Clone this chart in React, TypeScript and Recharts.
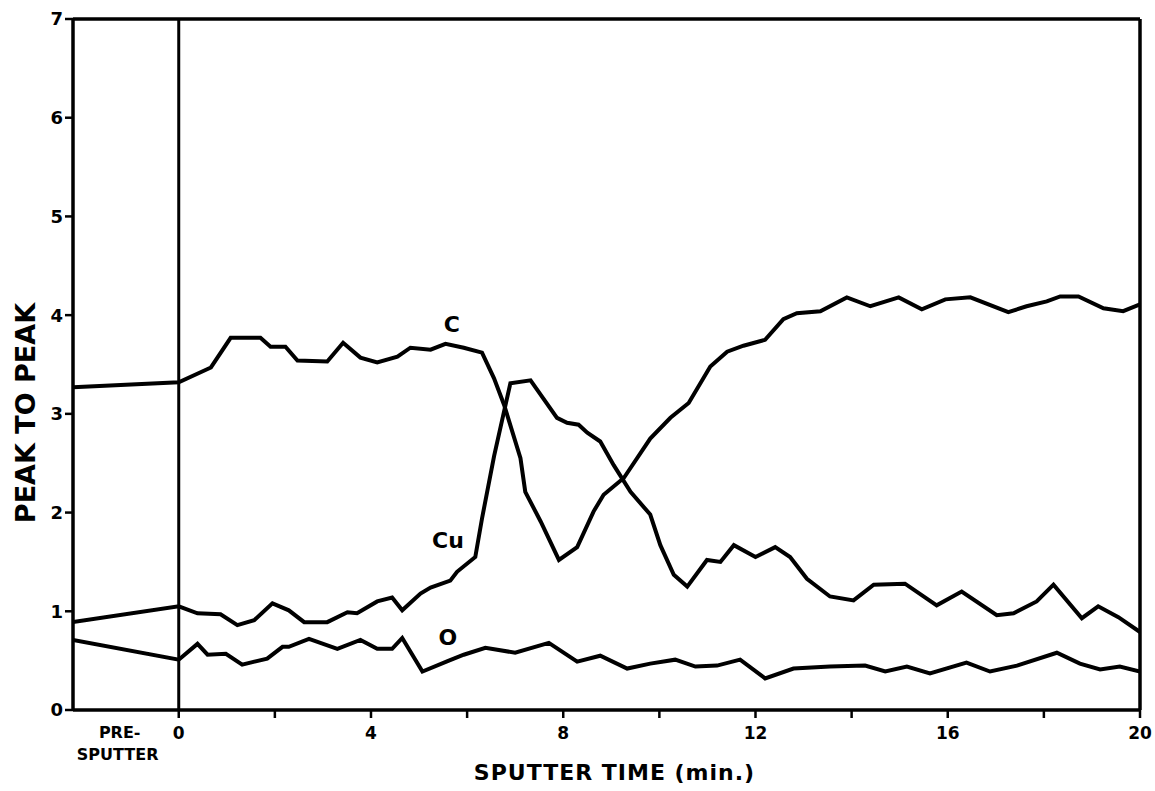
import React from 'react';
import { LineChart, Line, XAxis, YAxis, ReferenceLine, ReferenceDot } from 'recharts';

const PRE_T = -1.27;
const X_MIN = -2.2;
const X_MAX = 20;

const xTicks = [PRE_T, 0, 2, 4, 6, 8, 10, 12, 14, 16, 18, 20];
const xLabeled = [0, 4, 8, 12, 16, 20];
const yTicks = [0, 1, 2, 3, 4, 5, 6, 7];

const cTime = [-2.2, 0, 0.67, 1.08, 1.7, 1.91, 2.22, 2.47, 3.09, 3.42, 3.78, 4.13, 4.55, 4.82, 5.24, 5.55, 5.93, 6.31, 6.56, 6.77, 7.11, 7.21, 7.53, 7.91, 8.29, 8.63, 8.84, 9.26, 9.81, 10.23, 10.61, 11.06, 11.41, 11.75, 12.2, 12.58, 12.86, 13.35, 13.9, 14.39, 14.98, 15.46, 15.95, 16.47, 17.26, 17.64, 18.06, 18.34, 18.72, 19.24, 19.65, 20];
const cValues = [3.27, 3.32, 3.47, 3.77, 3.77, 3.68, 3.68, 3.54, 3.53, 3.72, 3.57, 3.52, 3.58, 3.67, 3.65, 3.71, 3.67, 3.62, 3.36, 3.09, 2.55, 2.21, 1.91, 1.52, 1.65, 2.01, 2.18, 2.35, 2.75, 2.96, 3.11, 3.48, 3.63, 3.69, 3.75, 3.96, 4.02, 4.04, 4.18, 4.09, 4.18, 4.06, 4.16, 4.18, 4.03, 4.09, 4.14, 4.19, 4.19, 4.07, 4.04, 4.11];

const cuTime = [-2.2, 0, 0.39, 0.87, 1.22, 1.57, 1.95, 2.29, 2.61, 3.09, 3.51, 3.71, 4.13, 4.44, 4.65, 5.03, 5.24, 5.65, 5.79, 6.17, 6.31, 6.56, 6.9, 7.32, 7.87, 8.08, 8.32, 8.5, 8.77, 9.05, 9.4, 9.81, 10.02, 10.3, 10.58, 10.99, 11.27, 11.55, 12.0, 12.41, 12.72, 13.07, 13.55, 14.04, 14.46, 15.11, 15.77, 16.29, 17.02, 17.37, 17.85, 18.2, 18.79, 19.13, 19.55, 20];
const cuValues = [0.89, 1.05, 0.98, 0.97, 0.86, 0.91, 1.08, 1.01, 0.89, 0.89, 0.99, 0.98, 1.10, 1.14, 1.01, 1.18, 1.24, 1.31, 1.40, 1.55, 1.94, 2.57, 3.31, 3.34, 2.96, 2.91, 2.89, 2.81, 2.72, 2.48, 2.21, 1.98, 1.67, 1.37, 1.25, 1.52, 1.50, 1.67, 1.55, 1.65, 1.55, 1.33, 1.15, 1.11, 1.27, 1.28, 1.06, 1.20, 0.96, 0.98, 1.10, 1.27, 0.93, 1.05, 0.94, 0.79];

const oTime = [-2.2, 0, 0.39, 0.6, 0.98, 1.32, 1.84, 2.16, 2.29, 2.71, 3.3, 3.78, 4.13, 4.44, 4.65, 5.07, 5.62, 5.93, 6.38, 7.0, 7.7, 8.29, 8.77, 9.33, 9.81, 10.33, 10.75, 11.2, 11.68, 12.2, 12.79, 13.55, 14.28, 14.7, 15.15, 15.63, 16.39, 16.88, 17.44, 18.27, 18.75, 19.17, 19.58, 20];
const oValues = [0.71, 0.51, 0.67, 0.56, 0.57, 0.46, 0.52, 0.64, 0.64, 0.72, 0.62, 0.71, 0.62, 0.62, 0.73, 0.39, 0.50, 0.56, 0.63, 0.58, 0.68, 0.49, 0.55, 0.42, 0.47, 0.51, 0.44, 0.45, 0.51, 0.32, 0.42, 0.44, 0.45, 0.39, 0.44, 0.37, 0.48, 0.39, 0.45, 0.58, 0.47, 0.41, 0.44, 0.39];

const seriesLabels = [
  { name: 'C', t: 5.68, v: 3.91 },
  { name: 'Cu', t: 5.6, v: 1.72 },
  { name: 'O', t: 5.6, v: 0.74 },
];

const zip = (ts: number[], vs: number[]) => ts.map((t, i) => ({ t, v: vs[i] }));
const cData = zip(cTime, cValues);
const cuData = zip(cuTime, cuValues);
const oData = zip(oTime, oValues);

const FONT = '"DejaVu Sans", "Liberation Sans", sans-serif';
const TICK_SIZE = 8;
const TICK_MARGIN = 6;

const XTick = (props: any) => {
  const { x, y, payload } = props;
  const v = payload.value;
  const axisY = y - TICK_SIZE - TICK_MARGIN;
  const textStyle = { fontFamily: FONT, fontWeight: 700, fontSize: 16, fill: '#000' } as any;
  if (v === PRE_T) {
    return (
      <g>
        <text x={x + 2} y={axisY + 28} textAnchor="middle" style={textStyle}>PRE-</text>
        <text x={x} y={axisY + 50} textAnchor="middle" style={textStyle}>SPUTTER</text>
      </g>
    );
  }
  return (
    <g>
      <line x1={x} x2={x} y1={axisY} y2={axisY + TICK_SIZE} stroke="#000" strokeWidth={2.5} />
      {xLabeled.includes(v) && (
        <text x={x} y={axisY + 29} textAnchor="middle" style={{ ...textStyle, fontSize: 17 }}>{v}</text>
      )}
    </g>
  );
};

const XLabel = (props: any) => {
  const vb = props.viewBox;
  return (
    <text x={vb.x + vb.width / 2 + 8} y={vb.y + 70} textAnchor="middle"
      style={{ fontFamily: FONT, fontWeight: 700, fontSize: 22, letterSpacing: 1, fill: '#000' }}>
      SPUTTER TIME (min.)
    </text>
  );
};

const YLabel = () => (
  <text x={0} y={0} transform="translate(35, 413) rotate(-90)" textAnchor="middle"
    style={{ fontFamily: FONT, fontWeight: 700, fontSize: 27, fill: '#000' }}>
    PEAK TO PEAK
  </text>
);

export default function App() {
  return (
    <div style={{ width: 1155, height: 791 }}>
      <style>{`body { margin: 0; overflow: hidden; }`}</style>
      <LineChart width={1155} height={791} margin={{ top: 19, right: 15, left: 43, bottom: 0 }}>
        <XAxis
          type="number"
          dataKey="t"
          domain={[X_MIN, X_MAX]}
          ticks={xTicks}
          allowDataOverflow
          interval={0}
          height={81}
          tickSize={TICK_SIZE}
          tickMargin={TICK_MARGIN}
          tickLine={false}
          axisLine={{ stroke: '#000', strokeWidth: 3.5 }}
          tick={<XTick />}
          label={<XLabel />}
        />
        <YAxis
          type="number"
          domain={[0, 7]}
          ticks={yTicks}
          interval={0}
          width={30}
          tickSize={TICK_SIZE}
          tickMargin={2}
          tickLine={{ stroke: '#000', strokeWidth: 2.5 }}
          axisLine={{ stroke: '#000', strokeWidth: 3.5 }}
          tick={{ fill: '#000', fontFamily: FONT, fontWeight: 700, fontSize: 18 }}
          label={<YLabel />}
        />
        <ReferenceLine y={7} stroke="#000" strokeWidth={3.5} />
        <ReferenceLine x={X_MAX} stroke="#000" strokeWidth={3.5} />
        <ReferenceLine x={0} stroke="#000" strokeWidth={3} />
        <Line data={cData} dataKey="v" type="linear" stroke="#000" strokeWidth={4} dot={false} isAnimationActive={false} />
        <Line data={cuData} dataKey="v" type="linear" stroke="#000" strokeWidth={4} dot={false} isAnimationActive={false} />
        <Line data={oData} dataKey="v" type="linear" stroke="#000" strokeWidth={4} dot={false} isAnimationActive={false} />
        {seriesLabels.map((s) => (
          <ReferenceDot key={s.name} x={s.t} y={s.v} r={0} stroke="none" fill="none"
            label={{ value: s.name, position: 'center', fill: '#000', fontFamily: FONT, fontWeight: 700, fontSize: 22 }} />
        ))}
      </LineChart>
    </div>
  );
}
